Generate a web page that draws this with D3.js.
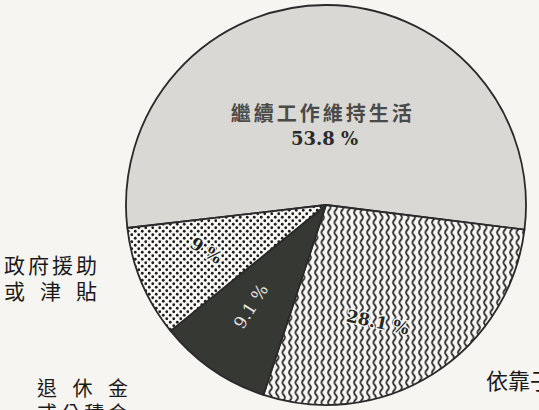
<!DOCTYPE html>
<html><head><meta charset="utf-8">
<script src="https://cdn.jsdelivr.net/npm/d3@7"></script>
<style>
html,body{margin:0;padding:0;background:#f6f5f2;overflow:hidden;}
svg{display:block;}
</style></head>
<body>
<svg id="chart" width="539" height="410"></svg>
<script>
// ---- data ----
const categories = ["繼續工作維持生活", "依靠子女", "退休金或公積金", "政府援助或津貼"];
const values = [53.8, 28.1, 9.1, 9.0];
const valueLabels = ["53.8 %", "28.1 %", "9.1 %", "9 %"];

// ---- layout ----
const W = 539, H = 410;
const cx = 326, cy = 205, R = 200;
const startDeg = 263.4;

const svg = d3.select("#chart");
svg.append("rect").attr("width", W).attr("height", H).attr("fill", "#f6f5f2");

const defs = svg.append("defs");
// dotted pattern
const pd = defs.append("pattern").attr("id", "dots").attr("patternUnits", "userSpaceOnUse")
  .attr("width", 7).attr("height", 7);
pd.append("rect").attr("width", 7).attr("height", 7).attr("fill", "#faf9f6");
pd.append("circle").attr("cx", 1.75).attr("cy", 1.75).attr("r", 1.4).attr("fill", "#1e1e1e");
pd.append("circle").attr("cx", 5.25).attr("cy", 5.25).attr("r", 1.4).attr("fill", "#1e1e1e");
// wavy vertical lines
const pw = defs.append("pattern").attr("id", "wavy").attr("patternUnits", "userSpaceOnUse")
  .attr("width", 6.5).attr("height", 10);
pw.append("rect").attr("width", 6.5).attr("height", 10).attr("fill", "#f8f7f4");
pw.append("path").attr("d", "M3.25,-1 L3.25,0 C4.9,1.6 4.9,3.4 3.25,5 C1.6,6.6 1.6,8.4 3.25,10 L3.25,11")
  .attr("fill", "none").attr("stroke", "#2b2b2b").attr("stroke-width", 1.8);

const fills = ["#d9d8d4", "url(#wavy)", "#363834", "url(#dots)"];

const pie = d3.pie().sort(null).value(d => d)
  .startAngle(startDeg * Math.PI / 180)
  .endAngle(startDeg * Math.PI / 180 + 2 * Math.PI);
const arcs = pie(values);
const arc = d3.arc().innerRadius(0).outerRadius(R);

const g = svg.append("g").attr("transform", `translate(${cx},${cy})`);
g.selectAll("path.slice").data(arcs).enter().append("path")
  .attr("class", "slice")
  .attr("d", arc)
  .attr("fill", (d, i) => fills[i])
  .attr("stroke", "#2a2a2a").attr("stroke-width", 1.8).attr("stroke-linejoin", "round");

// ---- value labels inside slices ----
const labelR = [67, 128, 126, 128];
const labelNudgeDeg = [-1.5, 8.5, 2, 2];
const labelRot = [0, 12, -58, 32];
const labelFill = ["#2a2a2a", "#262626", "#e8e8e4", "#1e1e1e"];
const labelSize = [18, 17, 17, 17];
const labelBold = [true, true, false, true];

function polar(angleRad, r) {
  return [Math.sin(angleRad) * r, -Math.cos(angleRad) * r];
}

arcs.forEach((d, i) => {
  const mid = (d.startAngle + d.endAngle) / 2 + labelNudgeDeg[i] * Math.PI / 180;
  const [x, y] = polar(mid, labelR[i]);
  const t = g.append("text")
    .attr("transform", `translate(${x},${y}) rotate(${labelRot[i]})`)
    .attr("text-anchor", "middle")
    .attr("dominant-baseline", "central")
    .attr("font-family", "'DejaVu Serif', 'Liberation Serif', serif")
    .attr("font-weight", labelBold[i] ? "bold" : "normal")
    .attr("font-size", labelSize[i])
    .attr("fill", labelFill[i])
    .text(valueLabels[i]);
  if (i === 1 || i === 3) {
    t.attr("stroke", "#f8f7f4").attr("stroke-width", 2.5).attr("paint-order", "stroke");
  }
});

// category name of the big slice (inside)
{
  const d = arcs[0];
  const mid = (d.startAngle + d.endAngle) / 2 - 2.2 * Math.PI / 180;
  const [x, y] = polar(mid, 93);
  g.append("text")
    .attr("x", x).attr("y", y)
    .attr("text-anchor", "middle").attr("dominant-baseline", "central")
    .attr("font-family", "'Noto Sans CJK TC', sans-serif")
    .attr("font-weight", "bold").attr("font-size", 20)
    .attr("letter-spacing", 3)
    .attr("fill", "#4a4a48")
    .text(categories[0]);
}

// ---- outside category labels ----
const cjk = "'Noto Sans CJK TC', sans-serif";
function outLabel(lines, x, y0, size, width, lh) {
  lines.forEach((t, k) => {
    const tx = svg.append("text")
      .attr("x", x).attr("y", y0 + k * lh)
      .attr("font-family", cjk).attr("font-size", size)
      .attr("fill", "#1a1a1a").text(t);
    if (width) tx.attr("textLength", width).attr("lengthAdjust", "spacing");
  });
}
outLabel(["政府援助", "或津貼"], 4, 273, 21, 93, 26);
outLabel(["退休金", "或公積金"], 37, 396, 20, 91, 25);
outLabel(["依靠子女"], 486, 389, 22, null, 24);
</script>
</body></html>
